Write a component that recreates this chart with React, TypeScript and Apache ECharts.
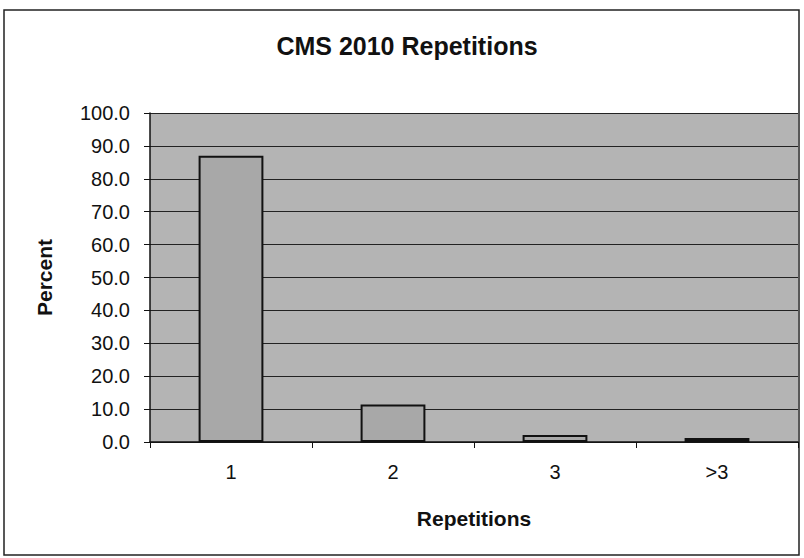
import React, { useEffect, useRef } from "react";
import * as echarts from "echarts";

const categories = ["1", "2", "3", ">3"];
const percentValues = [87.0, 11.4, 2.1, 1.2];
const yTicks = { min: 0, max: 100, interval: 10 };

export default function App() {
  const ref = useRef<HTMLDivElement>(null);
  useEffect(() => {
    document.body.style.margin = "0";
    const chart = echarts.init(ref.current!, null, { renderer: "svg" });
    const font = "Liberation Sans, Arial, sans-serif";
    chart.setOption({
      animation: false,
      backgroundColor: "#ffffff",
      title: {
        text: "CMS 2010 Repetitions",
        left: 402,
        textAlign: "center",
        top: 28,
        textStyle: { fontFamily: font, fontSize: 25, fontWeight: "bold", color: "#111" },
      },
      graphic: [
        {
          type: "rect",
          shape: { x: 4, y: 10, width: 795, height: 545 },
          style: { fill: "none", stroke: "#222", lineWidth: 1.5 },
          silent: true,
          z: -1,
        },
      ],
      grid: {
        left: 150,
        right: 6,
        top: 113,
        bottom: 116,
        show: true,
        backgroundColor: "#b4b4b4",
        borderWidth: 0,
      },
      xAxis: {
        type: "category",
        data: categories,
        name: "Repetitions",
        nameLocation: "middle",
        nameGap: 66,
        nameTextStyle: { fontFamily: font, fontSize: 21, fontWeight: "bold", color: "#111" },
        axisLine: { lineStyle: { color: "#111", width: 1.5 } },
        axisTick: { show: true, length: 6, lineStyle: { color: "#111" } },
        axisLabel: { fontFamily: font, fontSize: 20, color: "#111", margin: 20 },
      },
      yAxis: {
        type: "value",
        min: yTicks.min,
        max: yTicks.max,
        interval: yTicks.interval,
        name: "Percent",
        nameLocation: "middle",
        nameGap: 95,
        nameRotate: 90,
        nameTextStyle: { fontFamily: font, fontSize: 21, fontWeight: "bold", color: "#111" },
        axisLine: { show: true, lineStyle: { color: "#111", width: 1.5 } },
        axisTick: { show: true, length: 6, lineStyle: { color: "#111" } },
        axisLabel: {
          fontFamily: font,
          fontSize: 20,
          color: "#111",
          margin: 20,
          formatter: (v: number) => v.toFixed(1),
        },
        splitLine: { show: true, lineStyle: { color: "#222", width: 1 } },
      },
      series: [
        {
          type: "bar",
          data: percentValues,
          barWidth: "40%",
          itemStyle: { color: "#a8a8a8", borderColor: "#111", borderWidth: 2 },
        },
      ],
    });
    return () => chart.dispose();
  }, []);
  return <div ref={ref} style={{ width: 804, height: 558 }} />;
}
